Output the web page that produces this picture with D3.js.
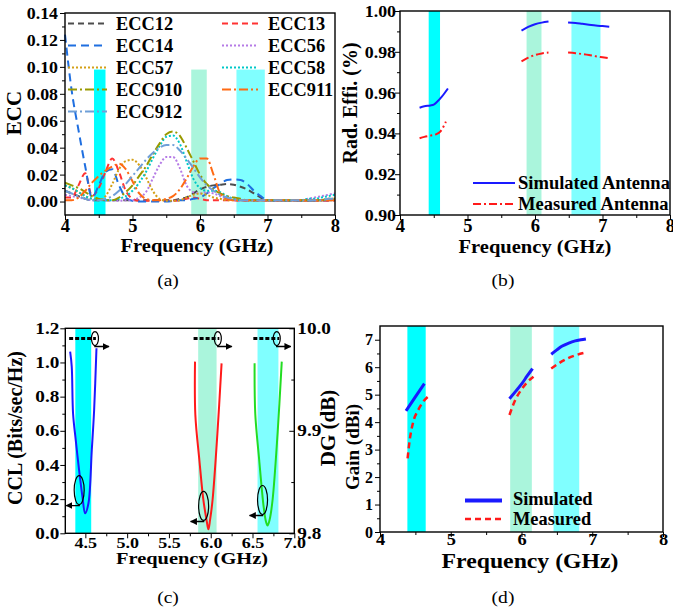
<!DOCTYPE html>
<html>
<head>
<meta charset="utf-8">
<script src="https://cdn.jsdelivr.net/npm/d3@7"></script>
<style>
  body { margin: 0; background: #fff; }
  svg text { font-family: "Liberation Serif", "Times New Roman", serif; fill: #000; }
</style>
</head>
<body>
<svg id="fig" width="673" height="614"></svg>
<script>
// ---------------- data ----------------
// (a) ECC curves, sampled every 0.1 GHz
var freqA = [4.0,4.1,4.2,4.3,4.4,4.5,4.6,4.7,4.8,4.9,5.0,5.1,5.2,5.3,5.4,5.5,5.6,5.7,5.8,5.9,
             6.0,6.1,6.2,6.3,6.4,6.5,6.6,6.7,6.8,6.9,7.0,7.1,7.2,7.3,7.4,7.5,7.6,7.7,7.8,7.9,8.0];
var ecc12  = [0.008,0.006,0.004,0.002,0.001,0.001,0.001,0.001,0.001,0.001,
              0.001,0.001,0.001,0.001,0.001,0.001,0.001,0.002,0.003,0.006,
              0.009,0.011,0.012,0.0125,0.013,0.0125,0.011,0.009,0.006,0.003,
              0.001,0.001,0.0005,0.0005,0.0005,0.0005,0.001,0.001,0.001,0.001,0.001];
var ecc13  = [0.003,0.003,0.012,0.021,0.004,0.010,0.022,0.032,0.022,0.008,
              0.002,0.0005,0.0005,0.0005,0.0005,0.0005,0.0005,0.001,0.002,0.003,
              0.002,0.001,0.001,0.001,0.001,0.001,0.0005,0.0005,0.0005,0.0005,
              0.0005,0.0005,0.0005,0.0005,0.0005,0.0005,0.0005,0.0005,0.0005,0.0005,0.001];
var ecc14  = [0.124,0.082,0.053,0.026,0.003,0.012,0.022,0.024,0.012,0.003,
              0.0005,0,0,0,0,0,0.0005,0.001,0.001,0.002,
              0.003,0.006,0.010,0.013,0.016,0.0165,0.016,0.013,0.008,0.004,
              0.001,0.0005,0.0005,0.0005,0.0005,0.0005,0.0005,0.0005,0.001,0.001,0.001];
var ecc56  = [0.005,0.004,0.003,0.002,0.001,0.001,0.001,0.0005,0.0005,0.001,
              0.001,0.003,0.007,0.017,0.027,0.033,0.033,0.025,0.012,0.007,
              0.006,0.007,0.006,0.004,0.002,0.001,0.0005,0.0005,0.0005,0.0005,
              0.0005,0.0005,0.0005,0.0005,0.0005,0.001,0.002,0.003,0.004,0.005,0.006];
var ecc57  = [0.012,0.010,0.007,0.004,0.002,0.001,0.004,0.013,0.024,0.030,
              0.031,0.027,0.018,0.008,0.002,0.0005,0.0005,0.001,0.003,0.005,
              0.006,0.005,0.003,0.002,0.001,0.001,0.001,0.001,0.001,0.001,
              0.001,0.001,0.001,0.001,0.001,0.001,0.001,0.001,0.001,0.002,0.002];
var ecc58  = [0.012,0.010,0.007,0.004,0.002,0.001,0.001,0.001,0.002,0.004,
              0.008,0.014,0.022,0.032,0.041,0.048,0.049,0.043,0.030,0.017,
              0.010,0.008,0.008,0.007,0.004,0.002,0.001,0.001,0.001,0.001,
              0.001,0.001,0.001,0.001,0.001,0.001,0.002,0.002,0.003,0.004,0.005];
var ecc910 = [0.014,0.012,0.010,0.007,0.004,0.002,0.001,0.001,0.003,0.007,
              0.012,0.019,0.026,0.035,0.043,0.050,0.052,0.049,0.040,0.030,
              0.020,0.013,0.009,0.006,0.004,0.003,0.002,0.001,0.001,0.001,
              0.001,0.001,0.001,0.001,0.001,0.001,0.001,0.001,0.001,0.002,0.002];
var ecc911 = [0.001,0.001,0.003,0.008,0.014,0.019,0.023,0.026,0.028,0.024,
              0.015,0.006,0.002,0.001,0.001,0.002,0.004,0.009,0.017,0.026,
              0.032,0.032,0.020,0.006,0.002,0.001,0.001,0.001,0.001,0.001,
              0.001,0.001,0.001,0.001,0.001,0.001,0.001,0.001,0.001,0.001,0.001];
var ecc912 = [0.008,0.006,0.004,0.002,0.001,0.001,0.002,0.004,0.008,0.013,
              0.019,0.025,0.031,0.036,0.040,0.042,0.042,0.038,0.032,0.025,
              0.018,0.012,0.008,0.005,0.003,0.002,0.001,0.001,0.001,0.001,
              0.001,0.001,0.001,0.001,0.001,0.001,0.001,0.001,0.001,0.002,0.002];
var eccNames = ["ECC12","ECC13","ECC14","ECC56","ECC57","ECC58","ECC910","ECC911","ECC912"];
var eccSeries = [ecc12, ecc13, ecc14, ecc56, ecc57, ecc58, ecc910, ecc911, ecc912];

// (b) radiation efficiency, three bands each
var simEffFreq = [[4.29,4.36,4.45,4.50,4.55,4.62,4.71],[5.80,5.90,6.00,6.10,6.20],[6.49,6.60,6.70,6.80,6.90,7.00,7.10]];
var simEff     = [[0.9526,0.9533,0.9537,0.9541,0.9555,0.9580,0.9620],[0.9904,0.9922,0.9935,0.9943,0.9948],
                  [0.9944,0.9941,0.9937,0.9933,0.9929,0.9926,0.9923]];
var meaEffFreq = [[4.29,4.36,4.45,4.53,4.60,4.68],[5.80,5.90,6.00,6.10,6.20],[6.49,6.60,6.70,6.80,6.90,7.00,7.10]];
var meaEff     = [[0.9376,0.9383,0.9389,0.9395,0.9410,0.9458],[0.9753,0.9771,0.9784,0.9792,0.9796],
                  [0.9796,0.9793,0.9789,0.9784,0.9778,0.9773,0.9768]];

// (c) CCL per band, DG flat lines
var cclFreq = [[4.318,4.337,4.353,4.385,4.425,4.465,4.497,4.537,4.577,4.605,4.633],
               [5.812,5.816,5.864,5.912,5.950,5.972,5.992,6.022,6.080,6.130],
               [6.525,6.533,6.580,6.633,6.660,6.680,6.705,6.740,6.800,6.850]];
var cclVal  = [[1.063,0.976,0.700,0.546,0.370,0.215,0.117,0.176,0.488,0.722,1.083],
               [1.005,0.693,0.429,0.195,0.078,0.023,0.078,0.195,0.585,0.995],
               [0.995,0.700,0.429,0.156,0.070,0.045,0.080,0.195,0.585,1.005]];
var dgFreq = [[4.306,4.40,4.50,4.626],[5.795,5.90,6.00,6.103],[6.51,6.60,6.70,6.82]];
var dgVal  = [[9.99,9.99,9.99,9.99],[9.99,9.99,9.99,9.99],[9.99,9.99,9.99,9.99]];
var cclMark = [[4.426,0.253],[5.915,0.160],[6.620,0.195]];   // circled CCL points
var dgMark  = [[4.615,9.99],[6.085,9.99],[6.790,9.99]];      // circled DG points

// (d) gain
var simGainFreq = [[4.368,4.495,4.627],[5.83,5.92,6.005,6.08,6.156],[6.42,6.50,6.57,6.66,6.76,6.84,6.91]];
var simGain     = [[4.41,4.90,5.40],[4.85,5.13,5.40,5.68,5.95],[6.47,6.63,6.76,6.87,6.96,7.00,7.03]];
var meaGainFreq = [[4.39,4.42,4.47,4.54,4.61,4.69],[5.83,5.91,6.00,6.08,6.17],[6.42,6.57,6.76,6.90]];
var meaGain     = [[2.68,3.35,4.01,4.44,4.74,4.95],[4.26,4.80,5.19,5.45,5.65],[5.95,6.21,6.43,6.53]];

// shaded operating bands per panel
var bandsA = [[4.43,4.60],[5.87,6.10],[6.54,6.96]];
var bandsB = [[4.425,4.593],[5.875,6.096],[6.54,6.97]];
var bandsC = [[4.38,4.57],[5.85,6.07],[6.56,6.81]];
var bandsD = [[4.387,4.646],[5.84,6.146],[6.453,6.816]];
var bandColors = ["#00ffff","#aaf5dc","#80ffff"];

// ---------------- drawing ----------------
var svg = d3.select("#fig");

var defs = svg.append("defs");
defs.append("marker").attr("id","arrow").attr("viewBox","0 0 10 10")
    .attr("refX",9).attr("refY",5).attr("markerWidth",7).attr("markerHeight",7)
    .attr("markerUnits","userSpaceOnUse").attr("orient","auto")
  .append("path").attr("d","M0,0L10,5L0,10Z").attr("fill","#000");

//text with optional horizontal stretch and rotation
function addText(g, x, y, str, size, sx, rot, weight, anchor){
    return g.append("g")
        .attr("transform","translate("+x+","+y+") scale("+sx+",1)"+(rot ? " rotate("+rot+")" : ""))
        .append("text")
        .attr("text-anchor", anchor || "middle")
        .attr("font-size", size)
        .attr("font-weight", weight || "bold")
        .text(str);
}

function makePanel(box, xd, yd){
    var p = {box: box};
    p.g = svg.append("g");
    p.x = d3.scaleLinear().domain(xd).range([box.l, box.r]);
    p.y = d3.scaleLinear().domain(yd).range([box.b, box.t]);
    return p;
}

function drawBands(p, bands, top){
    p.g.selectAll(".band").data(bands).enter().append("rect")
        .attr("x", function(d){ return p.x(d[0]); })
        .attr("width", function(d){ return p.x(d[1]) - p.x(d[0]); })
        .attr("y", top == null ? p.box.t : p.y(top))
        .attr("height", function(){ return p.box.b - (top == null ? p.box.t : p.y(top)); })
        .attr("fill", function(d, i){ return bandColors[i]; });
}

function styleTicks(sel, size, sx){
    sel.select(".domain").remove();
    sel.selectAll(".tick line").attr("stroke","#000").attr("stroke-width",1);
    sel.selectAll(".tick text").each(function(){
        var t = d3.select(this);
        var x = +t.attr("x") || 0;
        t.attr("x", x / sx).attr("transform","scale("+sx+",1)")
         .attr("font-size", size).attr("font-weight","bold")
         .attr("font-family", '"Liberation Serif","Times New Roman",serif');
    });
}

function drawAxes(p, o){
    var g = p.g, b = p.box;
    g.append("g").attr("transform","translate(0,"+b.b+")")
        .call(d3.axisBottom(p.x).tickValues(o.xMinor).tickSize(3).tickFormat(""))
        .call(function(s){ styleTicks(s, 1, 1); });
    g.append("g").attr("transform","translate(0,"+b.b+")")
        .call(d3.axisBottom(p.x).tickValues(o.xTicks).tickFormat(o.xFmt).tickSize(5).tickPadding(o.xPad))
        .call(function(s){ styleTicks(s, o.xSize, o.xSx); });
    g.append("g").attr("transform","translate("+b.l+",0)")
        .call(d3.axisLeft(p.y).tickValues(o.yMinor).tickSize(3).tickFormat(""))
        .call(function(s){ styleTicks(s, 1, 1); });
    g.append("g").attr("transform","translate("+b.l+",0)")
        .call(d3.axisLeft(p.y).tickValues(o.yTicks).tickFormat(o.yFmt).tickSize(5).tickPadding(o.yPad))
        .call(function(s){ styleTicks(s, o.ySize, o.ySx); });
    g.append("rect").attr("x",b.l).attr("y",b.t).attr("width",b.r-b.l).attr("height",b.b-b.t)
        .attr("fill","none").attr("stroke","#000").attr("stroke-width",1.4);
}

function seriesLine(p, xs, ys, color, width, dash, curve){
    var line = d3.line()
        .x(function(d){ return p.x(d[0]); })
        .y(function(d){ return p.y(d[1]); })
        .curve(curve || d3.curveMonotoneX);
    p.g.append("path").datum(d3.zip(xs, ys)).attr("d", line)
        .attr("fill","none").attr("stroke",color).attr("stroke-width",width)
        .attr("stroke-dasharray", dash || null);
}

// ---------- (a) ECC ----------
var pA = makePanel({l:65, r:335, t:13, b:215}, [4, 8], [-0.01, 0.14]);
drawBands(pA, bandsA, 0.098);
var eccColors = ["#4d4d4d","#ff3333","#1f6fe0","#b57be6","#d4a017","#00c8c8","#999900","#ff6a13","#6f9fd8"];
var eccDash = ["6,4","6,4","8,5","2,2","2,2","2,2","9,3,2,3","9,3,2,3","9,3,2,3"];
eccSeries.forEach(function(s, i){
    seriesLine(pA, freqA, s, eccColors[i], 2, eccDash[i]);
});
drawAxes(pA, {
    xTicks:[4,5,6,7,8], xMinor:[4.5,5.5,6.5,7.5], xFmt:d3.format("d"), xSize:18, xSx:1.03, xPad:-1,
    yTicks:[0,0.02,0.04,0.06,0.08,0.10,0.12,0.14], yMinor:[0.01,0.03,0.05,0.07,0.09,0.11,0.13],
    yFmt:d3.format(".2f"), ySize:17, ySx:1.05, yPad:2
});
// legend: two columns
var legA = [[0,0],[2,1],[4,2],[6,3],[8,4],[1,0],[3,1],[5,2],[7,3]];
legA.forEach(function(d, k){
    var col = k < 5 ? 0 : 1;
    var ly = 23.5 + d[1] * 22;
    var x0 = col ? 222 : 68, x1 = col ? 258 : 107, tx = col ? 268 : 116;
    pA.g.append("line").attr("x1",x0).attr("x2",x1).attr("y1",ly).attr("y2",ly)
        .attr("stroke",eccColors[d[0]]).attr("stroke-width",2).attr("stroke-dasharray",eccDash[d[0]]);
    addText(pA.g, tx, ly + 6, eccNames[d[0]], 18, 1.02, 0, "bold", "start");
});
addText(pA.g, 21, 113, "ECC", 21, 1, -90);
addText(pA.g, 197, 252, "Frequency (GHz)", 19, 1.08, 0);
addText(pA.g, 168, 286, "(a)", 17, 1.15, 0, "normal");

// ---------- (b) radiation efficiency ----------
var pB = makePanel({l:400, r:670, t:11, b:215}, [4, 8], [0.90, 1.00]);
drawBands(pB, bandsB);
simEffFreq.forEach(function(f, i){ seriesLine(pB, f, simEff[i], "#1a1aff", 2); });
meaEffFreq.forEach(function(f, i){ seriesLine(pB, f, meaEff[i], "#ff1a1a", 2, "8,3,2,3"); });
drawAxes(pB, {
    xTicks:[4,5,6,7,8], xMinor:[4.5,5.5,6.5,7.5], xFmt:d3.format("d"), xSize:18, xSx:1.03, xPad:-1,
    yTicks:[0.90,0.92,0.94,0.96,0.98,1.00], yMinor:[0.91,0.93,0.95,0.97,0.99],
    yFmt:d3.format(".2f"), ySize:17, ySx:1.05, yPad:-1
});
pB.g.append("line").attr("x1",473).attr("x2",515).attr("y1",183).attr("y2",183)
    .attr("stroke","#1a1aff").attr("stroke-width",2);
pB.g.append("line").attr("x1",473).attr("x2",515).attr("y1",204).attr("y2",204)
    .attr("stroke","#ff1a1a").attr("stroke-width",2).attr("stroke-dasharray","8,3,2,3");
addText(pB.g, 518, 189, "Simulated Antenna", 18, 1.03, 0, "bold", "start");
addText(pB.g, 518, 210, "Measured Antenna", 18, 1.03, 0, "bold", "start");
addText(pB.g, 357, 103, "Rad. Effi. (%)", 20, 1, -90);
addText(pB.g, 535, 253, "Frequency (GHz)", 19, 1.08, 0);
addText(pB.g, 503, 286, "(b)", 17, 1.15, 0, "normal");

// ---------- (c) CCL and DG ----------
var pC = makePanel({l:65.3, r:294.3, t:328.3, b:533.3}, [4.26, 7.0], [0, 1.2]);
var yDG = d3.scaleLinear().domain([9.8, 10.0]).range([533.3, 328.3]);
drawBands(pC, bandsC);
var cclColors = ["#1a1aff","#ff1a1a","#22dd22"];
cclFreq.forEach(function(f, i){ seriesLine(pC, f, cclVal[i], cclColors[i], 2, null, d3.curveCatmullRom); });
dgFreq.forEach(function(f, i){
    pC.g.append("path").datum(d3.zip(f, dgVal[i]))
        .attr("d", d3.line().x(function(d){ return pC.x(d[0]); }).y(function(d){ return yDG(d[1]); }))
        .attr("fill","none").attr("stroke","#000").attr("stroke-width",3).attr("stroke-dasharray","4,2");
});
drawAxes(pC, {
    xTicks:[4.5,5.0,5.5,6.0,6.5,7.0], xMinor:[4.75,5.25,5.75,6.25,6.75], xFmt:d3.format(".1f"), xSize:15, xSx:1.2, xPad:-1,
    yTicks:[0,0.2,0.4,0.6,0.8,1.0,1.2], yMinor:[0.1,0.3,0.5,0.7,0.9,1.1],
    yFmt:d3.format(".1f"), ySize:16, ySx:1.2, yPad:1
});
// right axis (DG), ticks inside
pC.g.append("g").attr("transform","translate("+pC.box.r+",0)")
    .call(d3.axisRight(yDG).tickValues([9.85,9.95]).tickSize(-3).tickFormat(""))
    .call(function(s){ styleTicks(s, 1, 1); });
pC.g.append("g").attr("transform","translate("+pC.box.r+",0)")
    .call(d3.axisRight(yDG).tickValues([9.8,9.9,10.0]).tickSize(-5).tickPadding(3).tickFormat(d3.format(".1f")))
    .call(function(s){ styleTicks(s, 16, 1.2); });
// circled points with arrows
cclMark.forEach(function(m){
    var cx = pC.x(m[0]), cy = pC.y(m[1]);
    pC.g.append("ellipse").attr("cx",cx).attr("cy",cy).attr("rx",5).attr("ry",14.5)
        .attr("fill","none").attr("stroke","#000").attr("stroke-width",1.2);
    pC.g.append("path").attr("d","M"+cx+","+(cy+14.5)+"V"+(cy+15.5)+"H"+(cx-13))
        .attr("fill","none").attr("stroke","#000").attr("stroke-width",1.4).attr("marker-end","url(#arrow)");
});
dgMark.forEach(function(m){
    var cx = pC.x(m[0]), cy = yDG(m[1]);
    pC.g.append("ellipse").attr("cx",cx).attr("cy",cy).attr("rx",3.5).attr("ry",7)
        .attr("fill","none").attr("stroke","#000").attr("stroke-width",1.2);
    pC.g.append("path").attr("d","M"+cx+","+(cy+7)+"V"+(cy+8)+"H"+(cx+14))
        .attr("fill","none").attr("stroke","#000").attr("stroke-width",1.4).attr("marker-end","url(#arrow)");
});
addText(pC.g, 22, 428, "CCL (Bits/sec/Hz)", 20, 1, -90);
addText(pC.g, 335, 428, "DG (dB)", 21, 1, -90);
addText(pC.g, 192, 564, "Frequency (GHz)", 17, 1.2, 0);
addText(pC.g, 168, 603, "(c)", 17, 1.15, 0, "normal");

// ---------- (d) gain ----------
var pD = makePanel({l:380, r:663, t:326, b:532}, [4, 8], [0, 7.5]);
drawBands(pD, bandsD);
simGainFreq.forEach(function(f, i){ seriesLine(pD, f, simGain[i], "#1a1aff", 3); });
meaGainFreq.forEach(function(f, i){ seriesLine(pD, f, meaGain[i], "#ff1a1a", 2.5, "6,4"); });
drawAxes(pD, {
    xTicks:[4,5,6,7,8], xMinor:[4.5,5.5,6.5,7.5], xFmt:d3.format("d"), xSize:16, xSx:1.15, xPad:-3,
    yTicks:[0,1,2,3,4,5,6,7], yMinor:[0.5,1.5,2.5,3.5,4.5,5.5,6.5],
    yFmt:d3.format("d"), ySize:16, ySx:1, yPad:2
});
pD.g.append("line").attr("x1",465).attr("x2",502).attr("y1",500.5).attr("y2",500.5)
    .attr("stroke","#1a1aff").attr("stroke-width",4);
pD.g.append("line").attr("x1",465).attr("x2",502).attr("y1",519).attr("y2",519)
    .attr("stroke","#ff1a1a").attr("stroke-width",2.5).attr("stroke-dasharray","6,4");
addText(pD.g, 513, 505, "Simulated", 18, 1.02, 0, "bold", "start");
addText(pD.g, 513, 525, "Measured", 18, 1.02, 0, "bold", "start");
addText(pD.g, 359, 447, "Gain (dBi)", 19, 1, -90);
addText(pD.g, 530, 568, "Frequency (GHz)", 22, 1.08, 0);
addText(pD.g, 503, 603, "(d)", 17, 1.15, 0, "normal");
</script>
</body>
</html>
